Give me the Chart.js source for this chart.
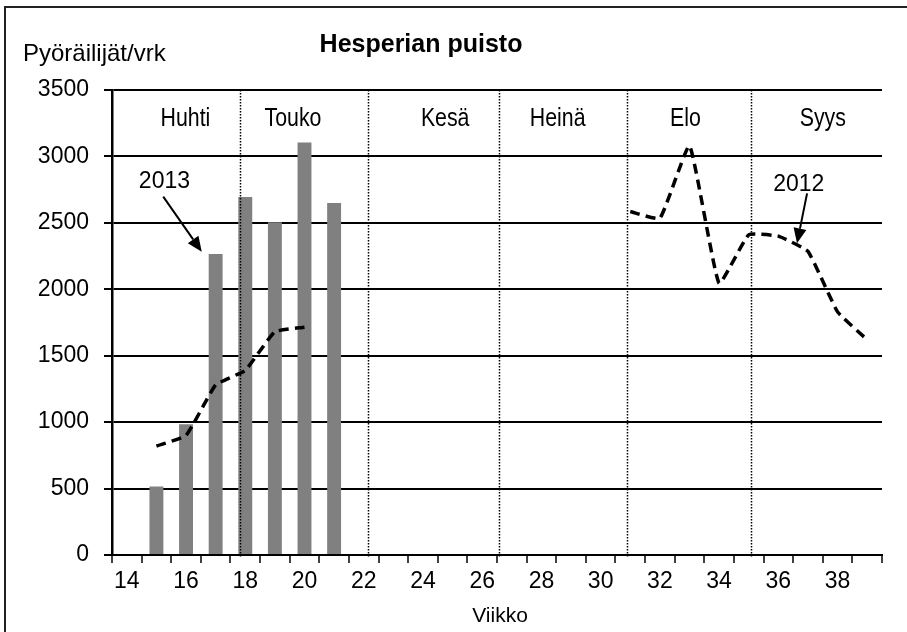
<!DOCTYPE html>
<html><head><meta charset="utf-8">
<script src="https://cdn.jsdelivr.net/npm/chart.js@4/dist/chart.umd.min.js"></script>
<style>html,body{margin:0;padding:0;background:#fff;} canvas{display:block;}</style>
</head><body>
<canvas id="c" width="907" height="632"></canvas>
<script>
// ---- data ----
const weeks = [14,15,16,17,18,19,20,21,22,23,24,25,26,27,28,29,30,31,32,33,34,35,36,37,38,39];
const bars2013 = [null,515,985,2265,2695,2505,3105,2650,null,null,null,null,null,null,null,null,null,null,null,null,null,null,null,null,null,null];
const line2012 = [null,820,900,1280,1390,1680,1715,null,null,null,null,null,null,null,null,null,null,2585,2535,3080,2045,2410,2400,2285,1830,1620];
const yMin = 0, yMax = 3500, yStep = 500;
const monthNames = ['Huhti','Touko','Kesä','Heinä','Elo','Syys'];
const monthCenters = [15.98,19.61,24.75,28.55,32.86,37.5];
const monthBounds = [17.82,22.16,26.57,30.9,35.07];
const chartTitle = 'Hesperian puisto';
const yTitle = 'Pyöräilijät/vrk';
const xTitle = 'Viikko';
// year notes: text anchor (week, value) and arrow from/to (week, value)
const noteLabels = ['2013','2012'];
const noteText = [[15.27,2762],[36.69,2742]];
const noteFrom = [[15.23,2697],[36.97,2722]];
const noteTo = [[16.53,2283],[36.63,2346]];

const FONT = '"Liberation Sans", Arial, sans-serif';

const extras = {
  id: 'extras',
  afterDatasetsDraw(chart) {
    const ctx = chart.ctx, xs = chart.scales.x, ys = chart.scales.y, a = chart.chartArea;
    const px = w => xs.getPixelForValue(w - weeks[0]);
    const py = v => ys.getPixelForValue(v);
    ctx.save();
    // month boundaries
    ctx.strokeStyle = '#000'; ctx.lineWidth = 1.5; ctx.setLineDash([1.5,1.5]);
    monthBounds.forEach(w => {
      const x = Math.round(px(w)) + 0.5;
      ctx.beginPath(); ctx.moveTo(x, a.top); ctx.lineTo(x, a.bottom + 3); ctx.stroke();
    });
    ctx.setLineDash([]);
    // month labels (condensed)
    ctx.fillStyle = '#000'; ctx.textAlign = 'center'; ctx.textBaseline = 'alphabetic';
    ctx.font = '26px ' + FONT;
    monthNames.forEach((m, i) => {
      ctx.save(); ctx.translate(px(monthCenters[i]), a.top + 36); ctx.scale(0.82, 1);
      ctx.fillText(m, 0, 0); ctx.restore();
    });
    // notes + arrows
    ctx.font = '23px ' + FONT;
    noteLabels.forEach((t, i) => {
      ctx.fillText(t, px(noteText[i][0]), py(noteText[i][1]));
      const x1 = px(noteFrom[i][0]), y1 = py(noteFrom[i][1]);
      const x2 = px(noteTo[i][0]), y2 = py(noteTo[i][1]);
      const ang = Math.atan2(y2 - y1, x2 - x1), L = 15, W = 6.5;
      const bx = x2 - L * Math.cos(ang), by = y2 - L * Math.sin(ang);
      ctx.lineWidth = 2; ctx.beginPath(); ctx.moveTo(x1, y1); ctx.lineTo(bx, by); ctx.stroke();
      ctx.beginPath(); ctx.moveTo(x2, y2);
      ctx.lineTo(bx + W * Math.sin(ang), by - W * Math.cos(ang));
      ctx.lineTo(bx - W * Math.sin(ang), by + W * Math.cos(ang));
      ctx.closePath(); ctx.fill();
    });
    ctx.restore();
  },
  afterDraw(chart) {
    const ctx = chart.ctx;
    ctx.save();
    ctx.fillStyle = '#000';
    ctx.textBaseline = 'alphabetic';
    ctx.font = 'bold 25px ' + FONT; ctx.textAlign = 'center';
    ctx.fillText(chartTitle, 421, 52);
    ctx.font = '24px ' + FONT; ctx.textAlign = 'left';
    ctx.fillText(yTitle, 23, 61);
    ctx.font = '21px ' + FONT; ctx.textAlign = 'center';
    ctx.fillText(xTitle, 500, 622);
    // outer frame
    ctx.strokeStyle = '#222'; ctx.lineWidth = 2;
    ctx.strokeRect(5, 7, 1000, 1000);
    ctx.restore();
  }
};

new Chart(document.getElementById('c'), {
  type: 'bar',
  data: {
    labels: weeks.map(String),
    datasets: [
      { type: 'line', label: '2012', data: line2012, borderColor: '#000', borderWidth: 3.5,
        borderDash: [10, 6], pointRadius: 0, tension: 0.12, spanGaps: false, fill: false, order: 0 },
      { type: 'bar', label: '2013', data: bars2013, backgroundColor: '#808080',
        barPercentage: 0.47, categoryPercentage: 1.0, order: 1 }
    ]
  },
  options: {
    responsive: false, animation: false, devicePixelRatio: 1,
    layout: { padding: { top: 90, right: 25, left: 0, bottom: 0 } },
    plugins: { legend: { display: false }, title: { display: false }, tooltip: { enabled: false } },
    scales: {
      x: {
        offset: true,
        grid: { offset: true, drawOnChartArea: true, drawTicks: true, tickLength: 8,
          color: c => (c.index === weeks.length ? '#000' : 'rgba(0,0,0,0)'), lineWidth: 2,
          tickColor: '#000', tickWidth: 1.5 },
        border: { color: '#000', width: 2 },
        ticks: { autoSkip: false, maxRotation: 0, padding: 5, color: '#000',
          font: { family: FONT, size: 23 },
          callback: (v, i) => (weeks[i] % 2 === 0 ? String(weeks[i]) : '') },
        afterFit: s => { s.height = 77; }
      },
      y: {
        min: yMin, max: yMax,
        grid: { color: '#000', lineWidth: 2, tickLength: 8, drawTicks: true },
        border: { color: '#000', width: 2.5 },
        ticks: { stepSize: yStep, padding: 15, color: '#000', font: { family: FONT, size: 23 },
          callback: v => String(v) },
        afterFit: s => { s.width = 112; }
      }
    }
  },
  plugins: [extras]
});
</script>
</body></html>
